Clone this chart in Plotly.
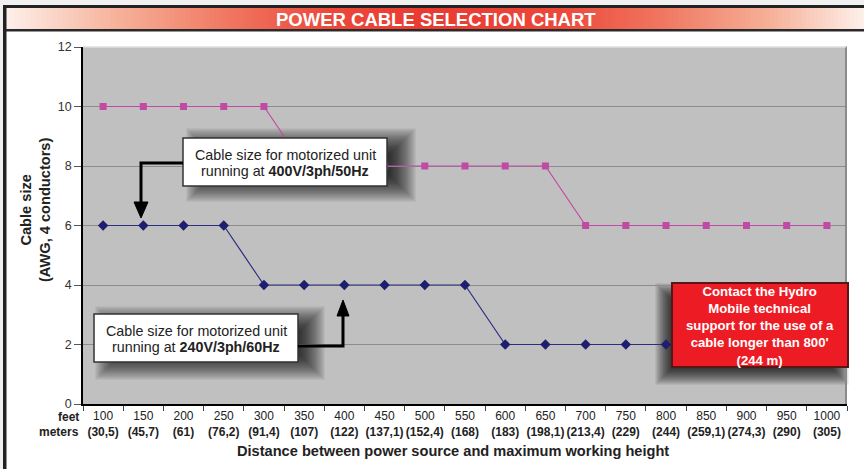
import plotly.graph_objects as go

# ---- data -------------------------------------------------------------
feet = [100, 150, 200, 250, 300, 350, 400, 450, 500, 550,
        600, 650, 700, 750, 800, 850, 900, 950, 1000]
meters = ["30,5", "45,7", "61", "76,2", "91,4", "107", "122", "137,1", "152,4", "168",
          "183", "198,1", "213,4", "229", "244", "259,1", "274,3", "290", "305"]
awg_400v = [10, 10, 10, 10, 10, 8, 8, 8, 8, 8, 8, 8, 6, 6, 6, 6, 6, 6, 6]
awg_240v = [6, 6, 6, 6, 4, 4, 4, 4, 4, 4, 2, 2, 2, 2, 2, 2, 2, 2, 2]
y_ticks = [0, 2, 4, 6, 8, 10, 12]

categories = [str(f) for f in feet]
tick_text = [f"{f}<br><b>({m})</b>" for f, m in zip(feet, meters)]

# ---- page geometry (pixels) -------------------------------------------
W, H = 864, 469
L, R, T, B = 83, 847, 47, 404
FONT = "Liberation Sans, Arial, sans-serif"


def px(x):
    return (x - L) / (R - L)


def py(y):
    return (B - y) / (B - T)


def rect(x0, y0, x1, y1, fill, line_color=None, line_width=0, layer="above", opacity=1):
    return dict(type="rect", xref="paper", yref="paper",
                x0=px(x0), x1=px(x1), y0=py(y1), y1=py(y0),
                fillcolor=fill, opacity=opacity, layer=layer,
                line=dict(color=line_color or fill, width=line_width))


def path(points, fill=None, color="black", width=3, closed=False):
    d = "M " + " L ".join(f"{px(x):.5f},{py(y):.5f}" for x, y in points)
    if closed:
        d += " Z"
    return dict(type="path", xref="paper", yref="paper", path=d, layer="above",
                fillcolor=fill if fill else "rgba(0,0,0,0)",
                line=dict(color=color, width=width if not closed else 1))


def shadow(x0, y0, x1, y1, dx, dy, spread, n=30, op=0.04):
    out = []
    for k in range(n):
        e = -spread + 2 * spread * k / (n - 1)
        out.append(dict(type="rect", xref="paper", yref="paper",
                        x0=px(x0 + dx - e), x1=px(x1 + dx + e),
                        y0=py(y1 + dy + e), y1=py(y0 + dy - e),
                        fillcolor="black", opacity=op, layer="between",
                        line=dict(width=0)))
    return out


def lerp_color(stops, x):
    for (xa, ca), (xb, cb) in zip(stops, stops[1:]):
        if xa <= x <= xb:
            t = (x - xa) / (xb - xa)
            c = [round(ca[i] + (cb[i] - ca[i]) * t) for i in range(3)]
            return f"rgb({c[0]},{c[1]},{c[2]})"
    c = stops[-1][1]
    return f"rgb({c[0]},{c[1]},{c[2]})"


shapes = []

# header band with a white-red-white gradient
grad = [(6, (253, 240, 234)), (120, (246, 176, 152)), (230, (240, 118, 96)),
        (330, (236, 72, 58)), (430, (234, 58, 50)), (560, (236, 72, 58)),
        (660, (240, 118, 96)), (770, (246, 176, 152)), (864, (253, 240, 234))]
step = 4
for x in range(6, 864, step):
    shapes.append(rect(x, 8, x + step + 0.6, 29, lerp_color(grad, x + step / 2), layer="below"))

# outer frame
shapes.append(rect(0, 0, 864, 5, "#f0f0f0", layer="below"))
shapes.append(rect(0, 0, 3, 469, "#f0f0f0", layer="below"))
shapes.append(rect(3, 5, 864, 8, "#222222", layer="below"))
shapes.append(rect(3, 5, 6.5, 469, "#222222", layer="below"))
shapes.append(rect(6, 29, 864, 31.5, "#2a2a2a", layer="below"))

# plot area edges
shapes.append(dict(type="line", xref="paper", yref="paper", x0=px(846), x1=px(846),
                   y0=py(404), y1=py(46.5), line=dict(color="#8a8a8a", width=2), layer="above"))
shapes.append(dict(type="line", xref="paper", yref="paper", x0=px(83), x1=px(846),
                   y0=py(47), y1=py(47), line=dict(color="#dedede", width=1.5), layer="above"))

# callout boxes: soft drop shadows first
box400 = (183, 138, 387, 186)
box240 = (94, 314, 298, 362)
box_red = (672, 283, 848, 367)
shapes += shadow(*box400, dx=16, dy=3, spread=13)
shapes += shadow(*box240, dx=14, dy=5, spread=13)
shapes += shadow(*box_red, dx=-8, dy=9, spread=9)

shapes.append(rect(*box400, "white", "#333333", 1.5))
shapes.append(rect(*box240, "white", "#333333", 1.5))
shapes.append(rect(*box_red, "#ed1c24", "#5a1616", 2))

# elbow arrows
shapes.append(path([(183, 163), (141, 163), (141, 204)]))
shapes.append(path([(134, 202), (148, 202), (141, 218)], fill="black", closed=True))
shapes.append(path([(298, 346), (343, 346), (343, 314)]))
shapes.append(path([(337, 316), (349, 316), (343, 300)], fill="black", closed=True))

# ---- figure -----------------------------------------------------------
fig = go.Figure()
fig.add_trace(go.Scatter(
    x=categories, y=awg_400v, mode="lines+markers", name="400V/3ph/50Hz",
    line=dict(color="#c04aa4", width=1.2),
    marker=dict(symbol="square", size=7, color="#c04aa4")))
fig.add_trace(go.Scatter(
    x=categories, y=awg_240v, mode="lines+markers", name="240V/3ph/60Hz",
    line=dict(color="#2c2c84", width=1.2),
    marker=dict(symbol="diamond", size=8, color="#1e1e6e")))

ann = []


def text(x, y, s, size=14.3, color="#222222", anchor="center"):
    ann.append(dict(xref="paper", yref="paper", x=px(x), y=py(y), text=s,
                    showarrow=False, xanchor=anchor, yanchor="middle",
                    font=dict(family=FONT, size=size, color=color)))


text(436, 19, "<b>POWER CABLE SELECTION CHART</b>", size=18.5, color="white")
text(285, 155, "Cable size for motorized unit")
text(285, 171, "running at <b>400V/3ph/50Hz</b>")
text(196, 331, "Cable size for motorized unit")
text(196, 347, "running at <b>240V/3ph/60Hz</b>")
text(760, 325.5, "<b>Contact the Hydro<br>Mobile technical<br>support for the use of a"
                 "<br>cable longer than 800'<br>(244 m)</b>", size=13.2, color="white")
text(81, 417, "<b>feet</b>", size=12, anchor="right")
text(81, 432, "<b>meters</b>", size=12, anchor="right")
text(453, 451, "<b>Distance between power source and maximum working height</b>", size=14.6)
ann.append(dict(xref="paper", yref="paper", x=px(35), y=py(210),
                text="<b>Cable size<br>(AWG, 4 conductors)</b>", showarrow=False,
                textangle=-90, xanchor="center", yanchor="middle",
                font=dict(family=FONT, size=14.6, color="#222222")))

fig.update_layout(
    width=W, height=H,
    margin=dict(l=L, r=W - R, t=T, b=H - B, pad=0),
    paper_bgcolor="white", plot_bgcolor="#c0c0c0",
    showlegend=False,
    font=dict(family=FONT, color="#222222"),
    shapes=shapes, annotations=ann,
)
fig.update_xaxes(
    type="category", categoryorder="array", categoryarray=categories,
    tickmode="array", tickvals=categories, ticktext=tick_text, tickangle=0,
    tickson="boundaries", ticks="outside", ticklen=5, tickcolor="#444444",
    tickfont=dict(family=FONT, size=12, color="#222222"),
    showline=True, linecolor="black", linewidth=1.5,
    showgrid=False, range=[-0.5, len(categories) - 0.5], fixedrange=True,
)
fig.update_yaxes(
    range=[0, 12], tickmode="array", tickvals=y_ticks,
    ticks="outside", ticklen=7, tickcolor="#555555",
    tickfont=dict(family=FONT, size=12.5, color="#333333"),
    showline=True, linecolor="black", linewidth=1.5,
    showgrid=True, gridcolor="#8c8c8c", gridwidth=1, zeroline=False,
)

fig.write_html("out.html")
